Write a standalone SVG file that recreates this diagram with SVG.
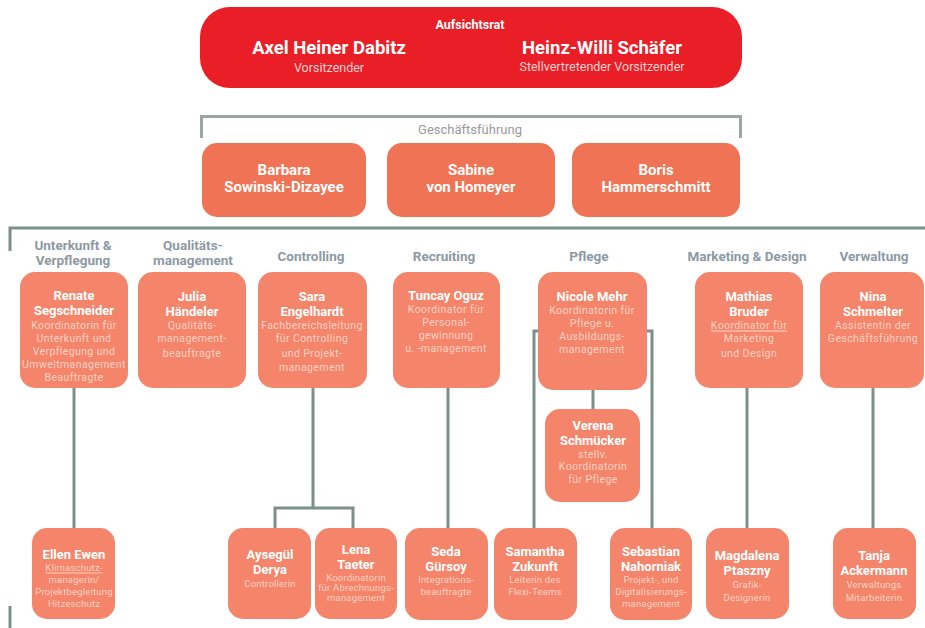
<svg xmlns="http://www.w3.org/2000/svg" width="925" height="628" viewBox="0 0 925 628">
<style>
text{font-family:Roboto,"Liberation Sans",sans-serif;text-anchor:middle;dominant-baseline:central}
.top{fill:#E91E26}
.mg{fill:#F07355}
.bx{fill:#F4846A}
.h{font-weight:700;fill:#fff}
.n{font-weight:700;fill:#fff;font-size:13px}
.s{fill:#FDD2C3;font-size:10.5px;letter-spacing:0.4px}
.ss{fill:#FDD2C3;font-size:9.5px;letter-spacing:0.2px}
.d{font-weight:700;fill:#8D99A3;font-size:13.5px}
.ln{stroke:#7B908A;stroke-width:3;fill:none}
.br{stroke:#9AA8A4;stroke-width:3;fill:none}
.u{text-decoration:underline}
</style>
<g id="connectors">
<path class="br" d="M201.5 138V116.5H740.5V138"/>
<path class="ln" d="M10 251V228H925"/>
<path class="ln" d="M74 388V528"/>
<path class="ln" d="M313 388V508M275 528V508H353V528"/>
<path class="ln" d="M448 388V528"/>
<path class="ln" d="M593 389V409"/>
<path class="ln" d="M538 331H534V528"/>
<path class="ln" d="M647 331H652V528"/>
<path class="ln" d="M747 388V528"/>
<path class="ln" d="M873 388V528"/>
<path class="ln" d="M10 606V628"/>
</g>
<g id="aufsichtsrat">
<rect class="top" x="200" y="7" width="542" height="81" rx="30"/>
<text class="h" x="470" y="24" font-size="12.5">Aufsichtsrat</text>
<text class="h" x="329" y="48" font-size="18.5">Axel Heiner Dabitz</text>
<text x="329" y="67" font-size="12.5" fill="#FBD0D0">Vorsitzender</text>
<text class="h" x="602" y="48" font-size="18.5">Heinz-Willi Schäfer</text>
<text x="602" y="66" font-size="12.5" fill="#FBD0D0">Stellvertretender Vorsitzender</text>
</g>
<text x="470" y="129" font-size="13" fill="#9A9A9A" font-family="Liberation Sans, sans-serif">Geschäftsführung</text>
<g id="barbara">
<rect class="mg" x="202" y="143" width="164" height="74" rx="15"/>
<text class="h" x="284" y="170" font-size="15">Barbara</text>
<text class="h" x="284" y="187" font-size="15">Sowinski-Dizayee</text>
</g>
<g id="sabine">
<rect class="mg" x="387" y="143" width="168" height="74" rx="15"/>
<text class="h" x="471" y="170" font-size="15">Sabine</text>
<text class="h" x="471" y="187" font-size="15">von Homeyer</text>
</g>
<g id="boris">
<rect class="mg" x="572" y="143" width="168" height="74" rx="15"/>
<text class="h" x="656" y="170" font-size="15">Boris</text>
<text class="h" x="656" y="187" font-size="15">Hammerschmitt</text>
</g>
<g id="dept-labels">
<text class="d" x="73" y="245">Unterkunft &amp;</text>
<text class="d" x="73" y="260">Verpflegung</text>
<text class="d" x="193" y="245">Qualitäts-</text>
<text class="d" x="193" y="260">management</text>
<text class="d" x="311" y="256">Controlling</text>
<text class="d" x="444" y="256">Recruiting</text>
<text class="d" x="589" y="256">Pflege</text>
<text class="d" x="747" y="256">Marketing &amp; Design</text>
<text class="d" x="874" y="256">Verwaltung</text>
</g>
<g id="renate">
<rect class="bx" x="20" y="272" width="108" height="116" rx="15"/>
<text class="n" x="74" y="295">Renate</text>
<text class="n" x="74" y="310">Segschneider</text>
<text class="s" x="74" y="325">Koordinatorin für</text>
<text class="s" x="74" y="338">Unterkunft und</text>
<text class="s" x="74" y="351">Verpflegung und</text>
<text class="s" x="74" y="364">Umweltmanagement</text>
<text class="s" x="74" y="377">Beauftragte</text>
</g>
<g id="julia">
<rect class="bx" x="138" y="272" width="108" height="116" rx="15"/>
<text class="n" x="192" y="296">Julia</text>
<text class="n" x="192" y="311">Händeler</text>
<text class="s" x="192" y="325">Qualitäts-</text>
<text class="s" x="192" y="338">management-</text>
<text class="s" x="192" y="353">beauftragte</text>
</g>
<g id="sara">
<rect class="bx" x="258" y="272" width="109" height="116" rx="15"/>
<text class="n" x="312" y="296">Sara</text>
<text class="n" x="312" y="311">Engelhardt</text>
<text class="s" x="312" y="325">Fachbereichsleitung</text>
<text class="s" x="312" y="338">für Controlling</text>
<text class="s" x="312" y="353">und Projekt-</text>
<text class="s" x="312" y="367">management</text>
</g>
<g id="tuncay">
<rect class="bx" x="393" y="272" width="107" height="116" rx="15"/>
<text class="n" x="446" y="295">Tuncay Oguz</text>
<text class="s" x="446" y="309">Koordinator für</text>
<text class="s" x="446" y="322">Personal-</text>
<text class="s" x="446" y="335">gewinnung</text>
<text class="s" x="446" y="348">u. -management</text>
</g>
<g id="nicole">
<rect class="bx" x="538" y="272" width="109" height="118" rx="15"/>
<text class="n" x="592" y="296">Nicole Mehr</text>
<text class="s" x="592" y="310">Koordinatorin für</text>
<text class="s" x="592" y="323">Pflege u.</text>
<text class="s" x="592" y="336">Ausbildungs-</text>
<text class="s" x="592" y="349">management</text>
</g>
<g id="mathias">
<rect class="bx" x="695" y="272" width="108" height="116" rx="15"/>
<text class="n" x="749" y="296">Mathias</text>
<text class="n" x="749" y="311">Bruder</text>
<text class="s u" x="749" y="325">Koordinator für</text>
<text class="s" x="749" y="338">Marketing</text>
<text class="s" x="749" y="353">und Design</text>
</g>
<g id="nina">
<rect class="bx" x="820" y="272" width="104" height="116" rx="15"/>
<text class="n" x="873" y="296">Nina</text>
<text class="n" x="873" y="311">Schmelter</text>
<text class="s" x="873" y="325">Assistentin der</text>
<text class="s" x="873" y="338">Geschäftsführung</text>
</g>
<g id="verena">
<rect class="bx" x="545" y="409" width="95" height="93" rx="15"/>
<text class="n" x="593" y="425">Verena</text>
<text class="n" x="593" y="440">Schmücker</text>
<text class="s" x="593" y="454">stellv.</text>
<text class="s" x="593" y="466.5">Koordinatorin</text>
<text class="s" x="593" y="479">für Pflege</text>
</g>
<g id="ellen">
<rect class="bx" x="32" y="528" width="83" height="91" rx="15"/>
<text class="n" x="74" y="554">Ellen Ewen</text>
<text class="ss u" x="74" y="567">Klimaschutz-</text>
<text class="ss" x="74" y="579">managerin/</text>
<text class="ss" x="74" y="591">Projektbegleitung</text>
<text class="ss" x="74" y="603">Hitzeschutz</text>
</g>
<g id="aysegul">
<rect class="bx" x="228" y="528" width="83" height="91" rx="15"/>
<text class="n" x="270" y="554">Aysegül</text>
<text class="n" x="270" y="569">Derya</text>
<text class="ss" x="270" y="583">Controllerin</text>
</g>
<g id="lena">
<rect class="bx" x="315" y="528" width="82" height="91" rx="15"/>
<text class="n" x="356" y="549">Lena</text>
<text class="n" x="356" y="564">Taeter</text>
<text class="ss" x="356" y="577" font-size="8.5">Koordinatorin</text>
<text class="ss" x="356" y="587" font-size="8.5">für Abrechnungs-</text>
<text class="ss" x="356" y="597" font-size="8.5">management</text>
</g>
<g id="seda">
<rect class="bx" x="405" y="528" width="83" height="92" rx="15"/>
<text class="n" x="446" y="551">Seda</text>
<text class="n" x="446" y="566">Gürsoy</text>
<text class="ss" x="446" y="579">Integrations-</text>
<text class="ss" x="446" y="591">beauftragte</text>
</g>
<g id="samantha">
<rect class="bx" x="494" y="528" width="83" height="92" rx="15"/>
<text class="n" x="535" y="551">Samantha</text>
<text class="n" x="535" y="566">Zukunft</text>
<text class="ss" x="535" y="579">Leiterin des</text>
<text class="ss" x="535" y="591">Flexi-Teams</text>
</g>
<g id="sebastian">
<rect class="bx" x="610" y="528" width="82" height="92" rx="15"/>
<text class="n" x="651" y="551">Sebastian</text>
<text class="n" x="651" y="566">Nahorniak</text>
<text class="ss" x="651" y="579">Projekt-, und</text>
<text class="ss" x="651" y="591">Digitalisierungs-</text>
<text class="ss" x="651" y="603">management</text>
</g>
<g id="magdalena">
<rect class="bx" x="706" y="528" width="83" height="91" rx="15"/>
<text class="n" x="747" y="555">Magdalena</text>
<text class="n" x="747" y="570">Ptaszny</text>
<text class="ss" x="747" y="584">Grafik-</text>
<text class="ss" x="747" y="597">Designerin</text>
</g>
<g id="tanja">
<rect class="bx" x="833" y="528" width="83" height="91" rx="15"/>
<text class="n" x="874" y="555">Tanja</text>
<text class="n" x="874" y="570">Ackermann</text>
<text class="ss" x="874" y="584">Verwaltungs</text>
<text class="ss" x="874" y="597">Mitarbeiterin</text>
</g>
</svg>
